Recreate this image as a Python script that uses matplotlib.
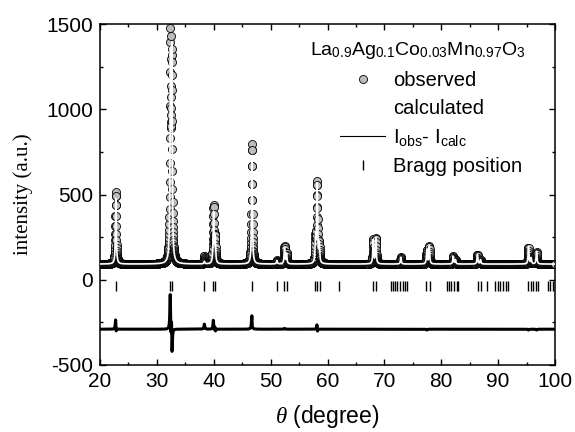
import numpy as np
import matplotlib
matplotlib.use("Agg")
import matplotlib.pyplot as plt
from matplotlib.lines import Line2D

plt.rcParams['font.family'] = ['Liberation Sans', 'DejaVu Sans']
plt.rcParams['mathtext.fontset'] = 'custom'
plt.rcParams['mathtext.rm'] = 'Liberation Sans'
plt.rcParams['mathtext.it'] = 'Liberation Serif:italic'
plt.rcParams['axes.unicode_minus'] = False

# ---- data ----
two_theta_start = 20.0
two_theta_stop = 100.0
two_theta_step = 0.02
background = 92.0
peak_hwhm = 0.085

obs_pos = [22.78, 32.38, 32.62, 38.35, 39.96, 40.24, 46.72, 51.10, 52.44, 52.80,
           57.90, 58.18, 58.55, 68.04, 68.50, 72.90, 77.46, 77.90, 82.10, 82.50,
           86.36, 86.90, 95.34, 95.80, 96.76]
obs_amp = [420, 1260, 1120, 45, 335, 150, 705, 20, 100, 60,
           150, 470, 110, 140, 150, 40, 80, 105, 45, 25,
           55, 25, 95, 35, 70]

calc_pos = [22.79, 32.392, 32.63, 38.35, 39.97, 40.25, 46.725, 51.10, 52.44, 52.80,
            57.90, 58.185, 58.55, 68.04, 68.50, 72.90, 77.46, 77.90, 82.10, 82.50,
            86.36, 86.90, 95.34, 95.80, 96.76]
calc_amp = [390, 1140, 1180, 15, 300, 150, 640, 20, 95, 60,
            150, 460, 110, 140, 150, 40, 85, 105, 45, 25,
            55, 25, 100, 35, 75]

bragg_pos = [22.76, 32.35, 32.60, 38.35, 39.80, 40.20, 46.67, 51.06, 52.40, 52.80,
             57.80, 58.20, 58.65, 62.10, 68.06, 68.60, 71.10, 71.50, 71.90, 72.30,
             72.70, 73.20, 73.60, 74.00, 77.40, 77.95, 81.00, 81.40, 81.80, 82.30,
             82.70, 83.00, 86.40, 87.00, 88.00, 89.50, 89.90, 90.30, 90.80, 91.30,
             91.80, 95.30, 95.70, 96.10, 96.60, 97.00, 98.80, 99.20, 99.60]

diff_offset = -290.0
bragg_level = -35.0

title = r'La$_{0.9}$Ag$_{0.1}$Co$_{0.03}$Mn$_{0.97}$O$_{3}$'
labels = ['observed', 'calculated', r'I$_{\rm obs}$- I$_{\rm calc}$', 'Bragg position']

# ---- build the profiles from the peak lists ----
x = np.arange(two_theta_start, two_theta_stop + 1e-9, two_theta_step)

def profile(pos, amp):
    y = np.full_like(x, background)
    for p, a in zip(pos, amp):
        y += a / (1.0 + ((x - p) / peak_hwhm) ** 2)
    return y

y_obs = profile(obs_pos, obs_amp)
y_calc = profile(calc_pos, calc_amp)
y_diff = y_obs - y_calc + diff_offset

# ---- figure ----
fig = plt.figure(figsize=(5.75, 4.32), dpi=100)
ax = fig.add_axes([100/575, 1 - 365/432, 455/575, 341/432])

ax.plot(x, y_obs, ls='none', marker='o', ms=5.8, mfc='#bdbdbd', mec='black',
        mew=0.6, zorder=2)
ax.plot(x, y_calc, color='white', lw=1.2, zorder=3)
ax.plot(x, y_diff, color='black', lw=2.2, zorder=2)
ax.plot(bragg_pos, [bragg_level] * len(bragg_pos), ls='none', marker='|',
        ms=6.5, mew=1.0, color='black', zorder=2)

ax.set_xlim(20, 100)
ax.set_ylim(-500, 1500)
ax.set_xticks(np.arange(20, 101, 10))
ax.set_xticks(np.arange(25, 100, 10), minor=True)
ax.set_yticks([-500, 0, 500, 1000, 1500])
ax.set_yticks([-250, 250, 750, 1250], minor=True)
ax.tick_params(which='both', direction='in', top=True, right=True,
               labelsize=15, width=1.0)
ax.tick_params(which='major', length=4.5, pad=5)
ax.tick_params(which='minor', length=2.5)
for s in ax.spines.values():
    s.set_linewidth(1.1)

ax.set_ylabel('intensity (a.u.)', family='Liberation Serif', fontsize=15)
ax.yaxis.set_label_coords(-0.147, 0.5)
ax.set_xlabel(r'$\theta$ (degree)', fontsize=16.5, labelpad=9)

# compound name (legend heading)
ax.text((310 - 100) / 455, (365 - 40) / 341, title, transform=ax.transAxes,
        ha='left', va='top', fontsize=14)

handles = [
    Line2D([], [], ls='none', marker='o', ms=5.8, mfc='#bdbdbd', mec='black', mew=0.6),
    Line2D([], [], color='white', lw=1.2),
    Line2D([], [], color='black', lw=0.8),
    Line2D([], [], ls='none', marker='|', ms=7, mew=1.0, color='black'),
]
leg = ax.legend(handles, labels, loc='upper right',
                bbox_to_anchor=((530 - 100) / 455, (365 - 63) / 341), frameon=False,
                fontsize=14.5, handlelength=2.2, handletextpad=0.4,
                labelspacing=0.45, borderaxespad=0.0)

fig.savefig('out.png', dpi=100)
